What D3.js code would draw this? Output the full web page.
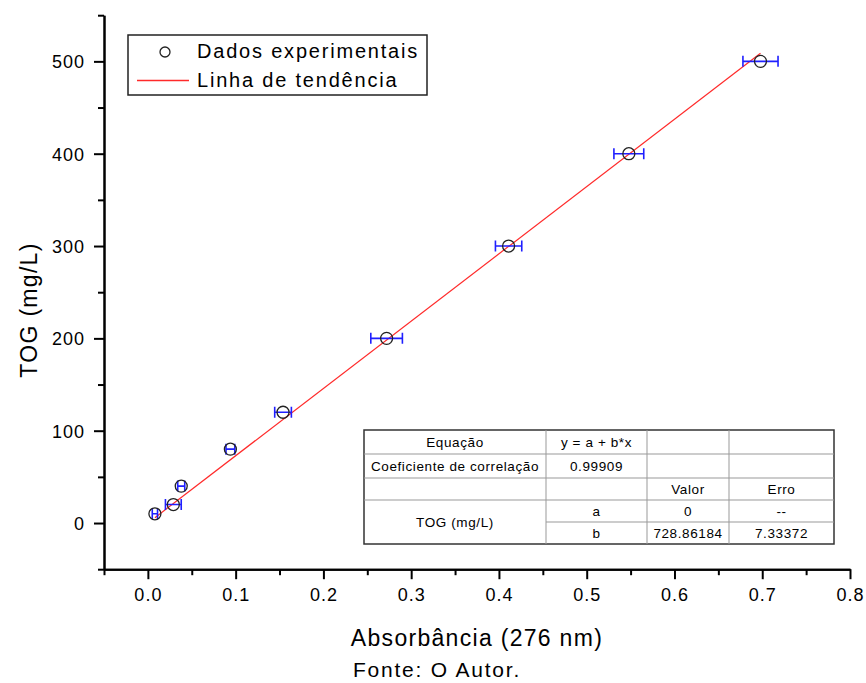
<!DOCTYPE html>
<html>
<head>
    <title>TOG calibration curve</title>
    <script src="https://d3js.org/d3.v7.min.js"></script>
    <style>
        body { margin: 0; background: #fff; }
        svg text { font-family: Arial, "Liberation Sans", sans-serif; fill: #000; }
        .tick-label { font-size: 18px; letter-spacing: 1px; }
        .axis-title { font-size: 23px; letter-spacing: 1.3px; }
        .legend-text { font-size: 20px; letter-spacing: 1.8px; }
        .table-text { font-size: 13.5px; letter-spacing: 0.6px; }
    </style>
</head>
<body>
    <div id="chart"></div>
    <script>
	// measured points
	const absorbance = [0.008, 0.029, 0.038, 0.094, 0.154, 0.272, 0.411, 0.548, 0.698];
	const tog = [10, 20, 40, 80, 120, 200, 300, 400, 500];
	const absError = [0.003, 0.009, 0.004, 0.005, 0.0095, 0.018, 0.015, 0.017, 0.02];

	// linear fit y = a + b*x
	const fitA = 0;
	const fitB = 728.86184;

	const xTicks = [0.0, 0.1, 0.2, 0.3, 0.4, 0.5, 0.6, 0.7, 0.8];
	const xMinor = [-0.05, 0.05, 0.15, 0.25, 0.35, 0.45, 0.55, 0.65, 0.75];
	const yTicks = [0, 100, 200, 300, 400, 500];
	const yMinor = [-50, 50, 150, 250, 350, 450, 550];

	const legendLabels = ['Dados experimentais', 'Linha de tendência'];

	// fit summary table rows
	const tableRows = [
	    ['Equação', 'y = a + b*x', '', ''],
	    ['Coeficiente de correlação', '0.99909', '', ''],
	    ['', '', 'Valor', 'Erro'],
	    ['TOG (mg/L)', 'a', '0', '--'],
	    ['', 'b', '728.86184', '7.33372']
	];

	const W = 866, H = 683;
	const plotL = 104, plotR = 850, plotT = 15.2, plotB = 569.2;

	const svg = d3.select("#chart").append("svg")
	    .attr("width", W)
	    .attr("height", H);

	const x = d3.scaleLinear().domain([-0.05, 0.8]).range([plotL, plotR]);
	const y = d3.scaleLinear().domain([-50, 550]).range([plotB, plotT]);

	// axes
	svg.append("g").attr("transform", `translate(0,${plotB})`)
	    .call(d3.axisBottom(x).tickValues(xTicks).tickSize(10).tickSizeOuter(0).tickPadding(9).tickFormat(d3.format(".1f")));
	svg.append("g").attr("transform", `translate(0,${plotB})`)
	    .call(d3.axisBottom(x).tickValues(xMinor).tickSize(6).tickSizeOuter(0).tickFormat(""));
	const yAxis = svg.append("g").attr("transform", `translate(${plotL},0)`)
	    .call(d3.axisLeft(y).tickValues(yTicks).tickSize(10).tickSizeOuter(0).tickPadding(9));
	svg.append("g").attr("transform", `translate(${plotL},0)`)
	    .call(d3.axisLeft(y).tickValues(yMinor).tickSize(6).tickSizeOuter(0).tickFormat(""));

	svg.selectAll(".domain").attr("stroke", "#000").attr("stroke-width", 2);
	svg.selectAll(".tick line").attr("stroke", "#000").attr("stroke-width", 2);
	svg.selectAll(".tick text").attr("class", "tick-label").attr("font-family", null).attr("font-size", null);
	yAxis.selectAll(".tick text").attr("dy", "0.36em");

	// axis titles
	svg.append("text").attr("class", "axis-title")
	    .attr("transform", "translate(37,310) rotate(-90)")
	    .attr("text-anchor", "middle")
	    .text("TOG (mg/L)");
	svg.append("text").attr("class", "axis-title")
	    .attr("x", 477).attr("y", 646)
	    .attr("text-anchor", "middle")
	    .text("Absorbância (276 nm)");
	svg.append("text").attr("class", "axis-title")
	    .attr("x", 437).attr("y", 677)
	    .attr("text-anchor", "middle")
	    .style("font-size", "21px")
	    .style("letter-spacing", "1.8px")
	    .text("Fonte: O Autor.");

	// fit line
	const xExt = d3.extent(absorbance);
	svg.append("line")
	    .attr("x1", x(xExt[0])).attr("y1", y(fitA + fitB * xExt[0]))
	    .attr("x2", x(xExt[1])).attr("y2", y(fitA + fitB * xExt[1]))
	    .attr("stroke", "#ff2a2a").attr("stroke-width", 1.2);

	const pts = absorbance.map((a, i) => ({a, t: tog[i], e: absError[i]}));

	// error bars
	const eb = svg.append("g").attr("stroke", "#1f1fff").attr("stroke-width", 1.6).attr("fill", "none");
	eb.selectAll("path").data(pts).enter().append("path")
	    .attr("d", d => {
	        const x0 = x(d.a - d.e), x1 = x(d.a + d.e), yy = y(d.t);
	        return `M${x0},${yy}H${x1}M${x0},${yy - 5.5}V${yy + 5.5}M${x1},${yy - 5.5}V${yy + 5.5}`;
	    });

	// data points
	svg.append("g").selectAll("circle").data(pts).enter().append("circle")
	    .attr("cx", d => x(d.a)).attr("cy", d => y(d.t)).attr("r", 6)
	    .attr("fill", "none").attr("stroke", "#222").attr("stroke-width", 1.3);

	// legend
	const lg = svg.append("g");
	lg.append("rect").attr("x", 128).attr("y", 35).attr("width", 299).attr("height", 60)
	    .attr("fill", "#fff").attr("stroke", "#222").attr("stroke-width", 1.5);
	lg.append("circle").attr("cx", 165).attr("cy", 52).attr("r", 5)
	    .attr("fill", "none").attr("stroke", "#222").attr("stroke-width", 1.3);
	lg.append("line").attr("x1", 137).attr("x2", 189).attr("y1", 80.5).attr("y2", 80.5)
	    .attr("stroke", "#ff2a2a").attr("stroke-width", 1.5);
	lg.selectAll("text").data(legendLabels).enter().append("text")
	    .attr("class", "legend-text")
	    .attr("x", 197).attr("y", (d, i) => 58 + i * 29)
	    .text(d => d);

	// table
	const colX = [364, 546, 647, 729, 834];
	const rowY = [430, 454, 478, 500, 522, 544];
	const tb = svg.append("g");
	tb.append("rect").attr("x", colX[0]).attr("y", rowY[0])
	    .attr("width", colX[4] - colX[0]).attr("height", rowY[5] - rowY[0])
	    .attr("fill", "#fff").attr("stroke", "#333").attr("stroke-width", 1.5);
	// horizontal rules
	[1, 2, 3].forEach(r => tb.append("line")
	    .attr("x1", colX[0]).attr("x2", colX[4]).attr("y1", rowY[r]).attr("y2", rowY[r])
	    .attr("stroke", "#999"));
	tb.append("line").attr("x1", colX[1]).attr("x2", colX[4]).attr("y1", rowY[4]).attr("y2", rowY[4])
	    .attr("stroke", "#999");
	[1, 2, 3].forEach(c => tb.append("line")
	    .attr("x1", colX[c]).attr("x2", colX[c]).attr("y1", rowY[0]).attr("y2", rowY[5])
	    .attr("stroke", "#999"));
	tableRows.forEach((row, r) => {
	    row.forEach((txt, c) => {
	        if (!txt) return;
	        let cy = (rowY[r] + rowY[r + 1]) / 2;
	        if (r === 3 && c === 0) cy = (rowY[3] + rowY[5]) / 2;
	        tb.append("text").attr("class", "table-text")
	            .attr("x", (colX[c] + colX[c + 1]) / 2).attr("y", cy)
	            .attr("dy", "0.36em").attr("text-anchor", "middle")
	            .text(txt);
	    });
	});
	</script>
</body>
</html>
